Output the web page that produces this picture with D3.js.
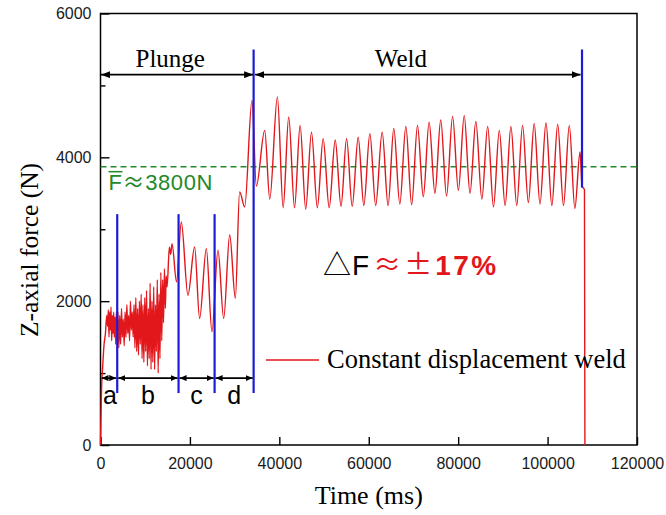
<!DOCTYPE html>
<html>
<head>
<meta charset="utf-8">
<script src="https://cdn.jsdelivr.net/npm/d3@7"></script>
<style>
  body { margin: 0; background: #fff; }
  svg { display: block; }
</style>
</head>
<body>
<svg id="chart"></svg>
<script>
// axis ticks
const xTicks = [0, 20000, 40000, 60000, 80000, 100000, 120000];
const yTicks = [0, 2000, 4000, 6000];
const yMinorTicks = [1000, 3000, 5000];

// force signal, [time ms, force N]
const rampUp = [
    [0, 0], [200, 700], [500, 1100], [800, 1400], [1100, 1550], [1400, 1800]
];
const phaseANoise = [
    [1600, 1650], [1750, 1880], [1900, 1500], [2050, 1850], [2200, 1600],
    [2350, 1920], [2500, 1450], [2650, 1800], [2800, 1550], [2950, 1850],
    [3100, 1500], [3250, 1780], [3400, 1400], [3550, 1850], [3700, 1600]
];
const phaseBNoise = [
    [3900, 1850], [4100, 1350], [4300, 1800], [4500, 1400], [4700, 1900],
    [4900, 1500], [5100, 1750], [5300, 1380], [5500, 1850], [5700, 1500],
    [5900, 1950], [6100, 1550], [6300, 1800], [6500, 1450], [6700, 2000],
    [6900, 1600], [7100, 1850], [7300, 1500], [7500, 1950], [7700, 1350],
    [7900, 2050], [8100, 1300], [8300, 1900], [8500, 1250], [8700, 2000],
    [8900, 1400], [9100, 2100], [9300, 1200], [9500, 1950], [9700, 1150],
    [9900, 2050], [10100, 1300], [10300, 2150], [10500, 1100], [10700, 1900],
    [10900, 1200], [11100, 2250], [11300, 1050], [11500, 2000], [11700, 1150],
    [11900, 2200], [12100, 1050], [12300, 1950], [12500, 1300], [12700, 2300],
    [12900, 1000], [13100, 2100], [13300, 1200], [13500, 2400], [13700, 1450],
    [13900, 2300], [14100, 1700], [14300, 2450], [14500, 1900], [14700, 2350],
    [14900, 2200]
];
const plungeWaves = [
    [15400, 2750], [15700, 2650], [16000, 2800], [17000, 2270], [18070, 3100],
    [19560, 2083], [21050, 2755], [22170, 1760], [23670, 2730], [24930, 1575],
    [26280, 2710], [27550, 1760], [28900, 2920], [30160, 2040], [31120, 3520],
    [32250, 3310]
];
const weldWaves = [
    [33880, 4790], [34860, 3600], [36730, 4375], [37860, 3420], [39570, 4840],
    [40850, 3300], [42100, 4560], [43400, 3300], [44650, 4445], [45900, 3280],
    [47190, 4350], [48500, 3300], [49800, 4260], [51150, 3300], [52500, 4240],
    [53800, 3320], [55040, 4260], [56300, 3320], [57640, 4280], [58900, 3330],
    [60250, 4330], [61550, 3330], [63000, 4350], [64330, 3330], [65600, 4400],
    [66950, 3350], [68300, 4430], [69600, 3340], [70900, 4445], [72200, 3450],
    [73500, 4490], [74800, 3500], [76100, 4520], [77400, 3460], [78750, 4570],
    [80050, 3540], [81350, 4580], [82650, 3500], [83950, 4500], [85300, 3420],
    [86600, 4430], [87900, 3310], [89200, 4375], [90500, 3330], [91800, 4430],
    [93100, 3330], [94400, 4445], [95700, 3370], [97000, 4470], [98300, 3350],
    [99640, 4480], [100950, 3330], [102260, 4460], [103560, 3330], [104860, 4445],
    [106100, 3290], [107260, 4075], [107700, 3600], [108250, 3550]
];
const stopDrop = [[108350, 0]];

// stages and phases
const stageBounds = [0, 34250, 107700];
const stageLabels = ["Plunge", "Weld"];
const phaseBounds = [0, 3740, 17460, 25520, 34250];
const phaseLabels = ["a", "b", "c", "d"];
const meanForce = 3870;

/** ---------------------------------------------------------------- */

const width = 666;
const height = 515;
const red = "#e2171c";
const blue = "#1c1cd8";
const green = "#23892a";

let svg = d3.select("#chart")
    .attr("width", width)
    .attr("height", height);

const x = d3.scaleLinear().domain([0, 120000]).range([100.5, 637]);
const y = d3.scaleLinear().domain([0, 6000]).range([445, 13.5]);

function addMarker(id, w, h) {
    svg.append("defs").append("marker")
        .attr("id", id)
        .attr("markerUnits", "userSpaceOnUse")
        .attr("markerWidth", w)
        .attr("markerHeight", h)
        .attr("refX", w)
        .attr("refY", h / 2)
        .attr("orient", "auto-start-reverse")
        .append("path")
        .attr("d", `M0,0 L${w},${h / 2} L0,${h} z`)
        .attr("fill", "black");
}

function addAxes() {
    const xAxis = d3.axisBottom(x)
        .tickValues(xTicks)
        .tickSizeInner(-8)
        .tickSizeOuter(0)
        .tickPadding(13)
        .tickFormat(d3.format("d"));
    const gx = svg.append("g")
        .attr("transform", `translate(0,${y(0)})`)
        .call(xAxis);

    const yAxis = d3.axisLeft(y)
        .tickValues(yTicks)
        .tickSizeInner(-9)
        .tickSizeOuter(0)
        .tickPadding(9)
        .tickFormat(d3.format("d"));
    const gy = svg.append("g")
        .attr("transform", `translate(${x(0)},0)`)
        .call(yAxis);

    const gyMinor = svg.append("g")
        .attr("transform", `translate(${x(0)},0)`)
        .call(d3.axisLeft(y).tickValues(yMinorTicks).tickSizeInner(-5)
            .tickSizeOuter(0).tickFormat(""));

    [gx, gy, gyMinor].forEach(g => {
        g.select(".domain").remove();
        g.selectAll("line").attr("stroke", "black").attr("stroke-width", 1.4);
        g.selectAll("text")
            .attr("font-family", "Liberation Sans, Arial, sans-serif")
            .attr("font-size", 16)
            .attr("fill", "#1a1a1a");
    });

    svg.append("rect")
        .attr("x", x(0))
        .attr("y", y(6000))
        .attr("width", x(120000) - x(0))
        .attr("height", y(0) - y(6000))
        .attr("fill", "none")
        .attr("stroke", "black")
        .attr("stroke-width", 1.5);

    svg.append("text")
        .attr("x", (x(0) + x(120000)) / 2)
        .attr("y", 504)
        .attr("text-anchor", "middle")
        .attr("font-family", "Liberation Serif, Times New Roman, serif")
        .attr("font-size", 26)
        .text("Time (ms)");

    svg.append("text")
        .attr("transform", "translate(38,250) rotate(-90)")
        .attr("text-anchor", "middle")
        .attr("font-family", "Liberation Serif, Times New Roman, serif")
        .attr("font-size", 25.5)
        .text("Z-axial force (N)");
}

function addMeanLine() {
    svg.append("line")
        .attr("x1", x(0)).attr("x2", x(120000))
        .attr("y1", y(meanForce)).attr("y2", y(meanForce))
        .attr("stroke", green)
        .attr("stroke-width", 1.5)
        .attr("stroke-dasharray", "6,4");

    let t = svg.append("text")
        .attr("x", x(0) + 8)
        .attr("y", y(meanForce) + 23)
        .attr("font-family", "Liberation Sans, Arial, sans-serif")
        .attr("font-size", 22)
        .attr("letter-spacing", 0.6)
        .attr("fill", green);
    t.append("tspan").text("F");
    t.append("tspan").attr("font-family", "Noto Sans CJK SC").text("≈");
    t.append("tspan").text("3800N");
    const fw = t.node().getSubStringLength(0, 1);
    svg.append("line")
        .attr("x1", x(0) + 8).attr("x2", x(0) + 8 + fw)
        .attr("y1", y(meanForce) + 5).attr("y2", y(meanForce) + 5)
        .attr("stroke", green)
        .attr("stroke-width", 1.5);
}

function addCurve() {
    const data = [].concat(rampUp, phaseANoise, phaseBNoise, plungeWaves,
        weldWaves, stopDrop);
    const line = d3.line()
        .curve(d3.curveMonotoneX)
        .x(d => x(d[0]))
        .y(d => y(d[1]));
    svg.append("path")
        .attr("d", line(data))
        .attr("fill", "none")
        .attr("stroke", red)
        .attr("stroke-width", 1.4)
        .attr("stroke-linejoin", "round");
}

function addBlueLine(t, f1, f2) {
    svg.append("line")
        .attr("x1", x(t)).attr("x2", x(t))
        .attr("y1", y(f1)).attr("y2", y(f2))
        .attr("stroke", blue)
        .attr("stroke-width", 2.2);
}

function addArrow(t1, t2, f, marker, gap) {
    svg.append("line")
        .attr("x1", x(t1) + gap).attr("x2", x(t2) - gap)
        .attr("y1", y(f)).attr("y2", y(f))
        .attr("stroke", "black")
        .attr("stroke-width", 1.6)
        .attr("marker-start", `url(#${marker})`)
        .attr("marker-end", `url(#${marker})`);
}

function addStages() {
    const arrowF = 5150;
    // blue stage lines
    addBlueLine(stageBounds[1], 722, 5500);
    addBlueLine(stageBounds[2], 3580, 5500);
    stageLabels.forEach((label, i) => {
        addArrow(stageBounds[i], stageBounds[i + 1], arrowF, "head", i === 0 ? 0.5 : 1.5);
    });
    const labelTimes = [15600, 67200];
    stageLabels.forEach((label, i) => {
        svg.append("text")
            .attr("x", x(labelTimes[i]))
            .attr("y", y(arrowF) - 8)
            .attr("text-anchor", "middle")
            .attr("font-family", "Liberation Serif, Times New Roman, serif")
            .attr("font-size", 25)
            .text(label);
    });

    const phaseF = 930;
    phaseBounds.slice(1, 4).forEach(t => addBlueLine(t, 722, 3210));
    phaseLabels.forEach((label, i) => {
        addArrow(phaseBounds[i], phaseBounds[i + 1], phaseF, "head-small", 1);
        svg.append("text")
            .attr("x", x((phaseBounds[i] + phaseBounds[i + 1]) / 2) + (i === 0 ? 1 : 0))
            .attr("y", y(phaseF) + 26)
            .attr("text-anchor", "middle")
            .attr("font-family", "Liberation Sans, Arial, sans-serif")
            .attr("font-size", 25)
            .text(label);
    });
}

function addDeltaLabel() {
    let t = svg.append("text")
        .attr("x", 323)
        .attr("y", 275)
        .attr("font-family", "Liberation Sans, Arial, sans-serif")
        .attr("font-size", 28);
    t.append("tspan").attr("font-family", "Noto Sans CJK SC").text("△");
    t.append("tspan").attr("dx", 1).text("F");
    t.append("tspan").attr("dx", 4).attr("font-family", "Noto Sans CJK SC")
        .attr("fill", red).attr("letter-spacing", 3).text("≈±");
    t.append("tspan").attr("fill", red).attr("font-weight", "bold")
        .attr("letter-spacing", 2.5).text("17%");
}

function addLegend() {
    svg.append("line")
        .attr("x1", 266).attr("x2", 319)
        .attr("y1", 360).attr("y2", 360)
        .attr("stroke", red)
        .attr("stroke-width", 1.4);
    svg.append("text")
        .attr("x", 327)
        .attr("y", 368)
        .attr("font-family", "Liberation Serif, Times New Roman, serif")
        .attr("font-size", 26.5)
        .text("Constant displacement weld");
}

addMarker("head", 9, 7);
addMarker("head-small", 7, 6);
addAxes();
addMeanLine();
addCurve();
addStages();
addDeltaLabel();
addLegend();
</script>
</body>
</html>
